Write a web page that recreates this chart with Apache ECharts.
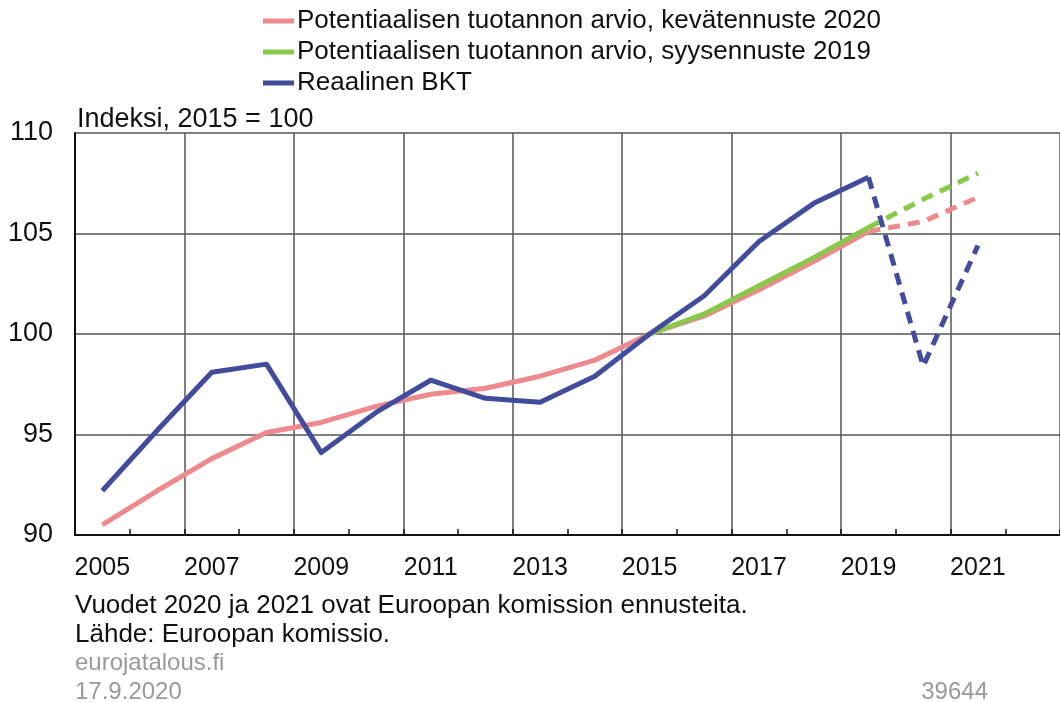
<!DOCTYPE html>
<html>
<head>
<meta charset="utf-8">
<script src="https://cdn.jsdelivr.net/npm/echarts@6/dist/echarts.min.js"></script>
<style>
html,body{margin:0;padding:0;background:#fff;}
#c{width:1060px;height:702px;}
</style>
</head>
<body>
<div id="c"></div>
<script>
// ---- data ----
const years = ['2005','2006','2007','2008','2009','2010','2011','2012','2013','2014','2015','2016','2017','2018','2019','2020','2021','2022'];
const potKevat2020 = [90.5, 92.2, 93.8, 95.1, 95.6, 96.4, 97.0, 97.3, 97.9, 98.7, 100.0, 100.9, 102.2, 103.6, 105.1, 105.6, 106.8, null];
const potSyys2019  = [null, null, null, null, null, null, null, null, null, null, 100.0, 101.0, 102.4, 103.8, 105.3, 106.7, 108.0, null];
const bkt          = [92.2, 95.2, 98.1, 98.5, 94.1, 96.1, 97.7, 96.8, 96.6, 97.9, 100.0, 101.9, 104.6, 106.5, 107.8, 98.4, 104.4, null];
const forecastFrom = '2019'; // last actual year; dashed afterwards
const seriesNames = ['Potentiaalisen tuotannon arvio, kevätennuste 2020', 'Potentiaalisen tuotannon arvio, syysennuste 2019', 'Reaalinen BKT'];
const labelledYears = ['2005','2007','2009','2011','2013','2015','2017','2019','2021'];
const yTicks = { min: 90, max: 110, step: 5 };
const axisTitle = 'Indeksi, 2015 = 100';
const notes = ['Vuodet 2020 ja 2021 ovat Euroopan komission ennusteita.', 'Lähde: Euroopan komissio.'];
const sourceLines = ['eurojatalous.fi', '17.9.2020'];
const chartId = '39644';

// ---- build ----
const cut = years.indexOf(forecastFrom);
const solidPart = arr => arr.map((v, i) => i <= cut ? v : null);
const dashPart = arr => arr.map((v, i) => i >= cut ? v : null);
const colors = ['#EE8A8E', '#88C94A', '#424C9D'];
const raw = [potKevat2020, potSyys2019, bkt];
const FONT = '"Liberation Sans", Arial, sans-serif';

const series = [];
raw.forEach((arr, k) => {
  series.push({
    name: seriesNames[k], type: 'line', data: solidPart(arr), showSymbol: false, symbol: 'none',
    lineStyle: { color: colors[k], width: 5, join: 'round' }, itemStyle: { color: colors[k] },
    animation: false, z: 2 + k
  });
  series.push({
    name: seriesNames[k] + ' ennuste', type: 'line', data: dashPart(arr), showSymbol: false, symbol: 'none',
    lineStyle: { color: colors[k], width: 5, type: [12, 8] }, itemStyle: { color: colors[k] },
    animation: false, z: 2 + k
  });
});

const chart = echarts.init(document.getElementById('c'));
chart.setOption({
  backgroundColor: '#fff',
  animation: false,
  textStyle: { fontFamily: FONT },
  legend: {
    data: seriesNames, orient: 'vertical', left: 258, top: 3,
    icon: 'rect', itemWidth: 31, itemHeight: 5, itemGap: 5,
    textStyle: { fontSize: 26, color: '#111', fontFamily: FONT, padding: [0, 0, 0, -2] }
  },
  grid: { left: 75, top: 133, width: 993.6, height: 402 },
  xAxis: {
    type: 'category', data: years, boundaryGap: true,
    axisLine: { show: true, lineStyle: { color: '#111', width: 2 } },
    axisTick: { show: true, inside: true, length: 6, interval: 0, lineStyle: { color: '#111', width: 1.5 } },
    axisLabel: {
      interval: (i, v) => labelledYears.indexOf(v) >= 0,
      fontSize: 25, color: '#111', margin: 21, fontFamily: FONT
    },
    splitLine: { show: true, interval: 1, lineStyle: { color: '#555', width: 1.5 } }
  },
  yAxis: {
    type: 'value', min: yTicks.min, max: yTicks.max, interval: yTicks.step,
    axisLine: { show: true, lineStyle: { color: '#111', width: 2 } },
    axisTick: { show: false },
    axisLabel: { fontSize: 27, color: '#111', margin: 22, fontFamily: FONT },
    splitLine: { show: true, lineStyle: { color: '#555', width: 1.5 } }
  },
  graphic: [
    { type: 'text', left: 77, top: 106, style: { text: axisTitle, font: '27px ' + FONT, fill: '#111' } },
    { type: 'text', left: 75, top: 593, style: { text: notes[0], font: '26px ' + FONT, fill: '#111' } },
    { type: 'text', left: 75, top: 622, style: { text: notes[1], font: '26px ' + FONT, fill: '#111' } },
    { type: 'text', left: 75, top: 651, style: { text: sourceLines[0], font: '24px ' + FONT, fill: '#9a9a9a' } },
    { type: 'text', left: 75, top: 680, style: { text: sourceLines[1], font: '24px ' + FONT, fill: '#9a9a9a' } },
    { type: 'text', right: 72, top: 680, style: { text: chartId, font: '24px ' + FONT, fill: '#9a9a9a' } }
  ],
  series: series
});
</script>
</body>
</html>
